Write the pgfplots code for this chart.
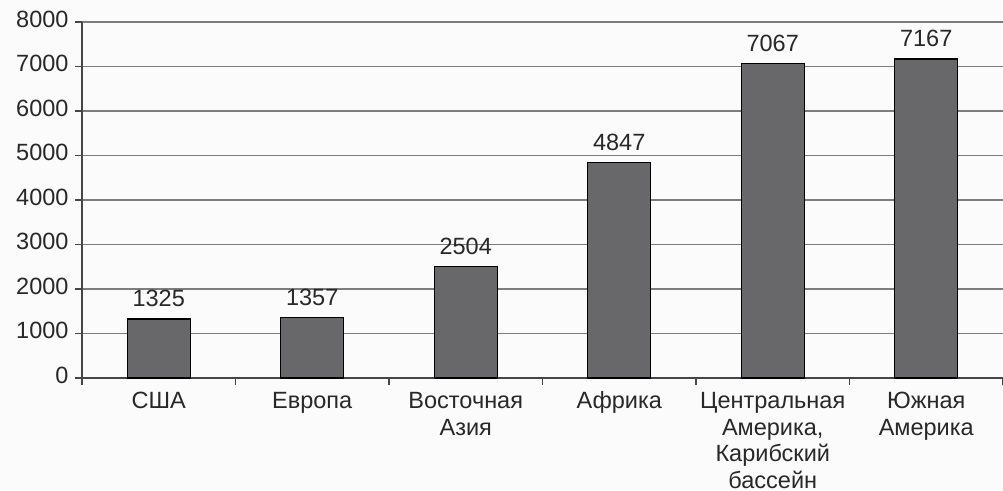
\documentclass[border=0pt]{standalone}
\usepackage{pgfplots}
\pgfplotsset{compat=1.18}
\usepackage{fontspec}
\setmainfont{Liberation Sans}
\definecolor{barfill}{RGB}{104,104,107}
\definecolor{gridc}{RGB}{125,125,125}
\definecolor{axc}{RGB}{70,70,70}
\definecolor{bg}{RGB}{251,251,251}
\definecolor{txt}{RGB}{40,40,40}
\begin{document}
\begin{tikzpicture}
\fill[bg] (-82pt,-112pt) rectangle (921pt,378pt);
\path[use as bounding box] (-82pt,-112pt) rectangle (921pt,378pt);
\begin{axis}[
  at={(0pt,0pt)}, anchor=south west,
  scale only axis, width=921pt, height=356pt,
  xmin=-0.5, xmax=5.5, ymin=0, ymax=8000,
  axis x line*=bottom, axis y line*=left,
  axis line style={axc, line width=1.4pt},
  ytick={0,1000,...,8000},
  scaled y ticks=false,
  yticklabel style={/pgf/number format/1000 sep={}, /pgf/number format/assume math mode=true},
  ymajorgrids, grid style={gridc, line width=1.3pt},
  xtick={0,1,2,3,4,5},
  xticklabels={США, Европа, {Восточная\\Азия}, Африка, {Центральная\\Америка,\\Карибский\\бассейн}, {Южная\\Америка}},
  minor xtick={-0.5,0.5,1.5,2.5,3.5,4.5,5.5},
  major x tick style={draw=none},
  tick style={axc, line width=1.3pt},
  tick align=outside, major tick length=7pt, minor tick length=7pt,
  ticklabel style={font=\fontsize{23.5}{26.5}\selectfont, text=txt},
  x tick label style={align=center, text width=160pt, anchor=north, yshift=-1.5pt},
  typeset ticklabels with strut,
  y tick label style={xshift=-3pt},
  ybar, bar width=63pt,
  nodes near coords,
  nodes near coords style={font=\fontsize{23.5}{27.5}\selectfont, text=txt, yshift=8pt, /pgf/number format/1000 sep={}, /pgf/number format/assume math mode=true},
  clip=false,
]
\addplot[fill=barfill, draw=black, line width=1.3pt] coordinates {(0,1325) (1,1357) (2,2504) (3,4847) (4,7067) (5,7167)};
\end{axis}
\end{tikzpicture}
\end{document}
